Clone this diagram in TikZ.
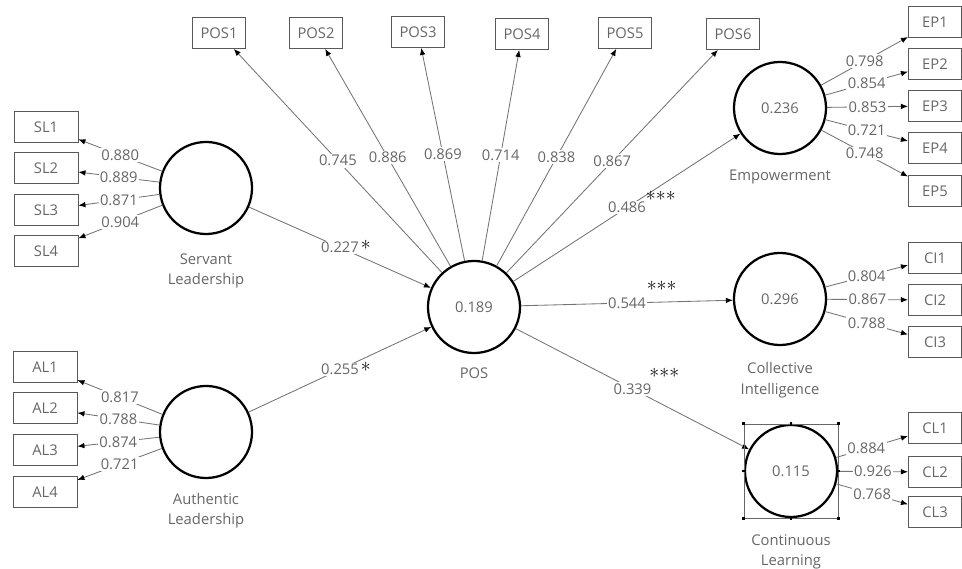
\documentclass[tikz,border=0pt]{standalone}
\usepackage{fontspec}
\usetikzlibrary{positioning,arrows.meta}
\newfontfamily\plsfont{Open Sans}

\tikzset{
  lv/.style={circle, draw=black, line width=1.6pt, minimum size=2.3cm, inner sep=0pt, font=\plsfont\fontsize{10.5}{12}\selectfont, text=black!60},
  ind/.style={draw=black!65, line width=0.6pt, minimum height=0.775cm, inner sep=2pt, font=\plsfont\fontsize{10.5}{12}\selectfont, text=black!60},
  indl/.style={ind, minimum width=1.6cm},
  indt/.style={ind, minimum width=1.33cm},
  indr/.style={ind, minimum width=1.33cm},
  lvname/.style={align=center, font=\plsfont\fontsize{10.5}{14.5}\selectfont, text=black!60, inner sep=1pt},
  link/.style={draw=black!55, line width=0.6pt, -{Latex[length=5pt,width=4pt,color=black]}},
  lbl/.style={fill=white, inner sep=1pt, font=\plsfont\fontsize{10.5}{12}\selectfont, text=black!60, pos=0.5},
  sig/.style={font=\Large, inner sep=0pt, anchor=west}
}

\begin{document}
\begin{tikzpicture}[x=0.025cm, y=-0.025cm]
\useasboundingbox (0,0) rectangle (962,569);

\node[lv] (SL) at (206,188) {};
\node[lv] (AL) at (206,432) {};
\node[lv] (POS) at (474,307) {0.189};
\node[lv] (EMP) at (780,108) {0.236};
\node[lv] (CI) at (780,299) {0.296};
\node[lv] (CL) at (791,471) {0.115};

\node[lvname, below=0.42cm of SL] (SLn) {Servant\\Leadership};
\node[lvname, below=0.3cm of AL] (ALn) {Authentic\\Leadership};
\node[lvname, below=0.3cm of POS] (POSn) {POS};
\node[lvname, below=0.33cm of EMP] (EMPn) {Empowerment};
\node[lvname, below=0.37cm of CI] (CIn) {Collective\\Intelligence};
\node[lvname, below=0.37cm of CL] (CLn) {Continuous\\Learning};

\node[indl] (SL1) at (46,127) {SL1};
\node[indl] (SL2) at (46,168) {SL2};
\node[indl] (SL3) at (46,210) {SL3};
\node[indl] (SL4) at (46,251) {SL4};

\node[indl] (AL1) at (45,367) {AL1};
\node[indl] (AL2) at (45,408) {AL2};
\node[indl] (AL3) at (45,450) {AL3};
\node[indl] (AL4) at (45,492) {AL4};

\node[indt] (POS1) at (219,33) {POS1};
\node[indt] (POS2) at (316,33) {POS2};
\node[indt] (POS3) at (418,32) {POS3};
\node[indt] (POS4) at (522,34) {POS4};
\node[indt] (POS5) at (625,33) {POS5};
\node[indt] (POS6) at (733,34) {POS6};

\node[indr] (EP1) at (935,22) {EP1};
\node[indr] (EP2) at (935,64) {EP2};
\node[indr] (EP3) at (935,106) {EP3};
\node[indr] (EP4) at (935,148) {EP4};
\node[indr] (EP5) at (935,191) {EP5};

\node[indr] (CI1) at (935,258) {CI1};
\node[indr] (CI2) at (935,300) {CI2};
\node[indr] (CI3) at (935,342) {CI3};

\node[indr] (CL1) at (935,428) {CL1};
\node[indr] (CL2) at (935,472) {CL2};
\node[indr] (CL3) at (935,512) {CL3};

\draw[link] (SL) -- (SL1) node[lbl] {0.880};
\draw[link] (SL) -- (SL2) node[lbl] {0.889};
\draw[link] (SL) -- (SL3) node[lbl] {0.871};
\draw[link] (SL) -- (SL4) node[lbl] {0.904};

\draw[link] (AL) -- (AL1) node[lbl] {0.817};
\draw[link] (AL) -- (AL2) node[lbl] {0.788};
\draw[link] (AL) -- (AL3) node[lbl] {0.874};
\draw[link] (AL) -- (AL4) node[lbl] {0.721};

\draw[link] (POS) -- (POS1) node[lbl] {0.745};
\draw[link] (POS) -- (POS2) node[lbl] {0.886};
\draw[link] (POS) -- (POS3) node[lbl] {0.869};
\draw[link] (POS) -- (POS4) node[lbl] {0.714};
\draw[link] (POS) -- (POS5) node[lbl] {0.838};
\draw[link] (POS) -- (POS6) node[lbl] {0.867};

\draw[link] (EMP) -- (EP1) node[lbl] {0.798};
\draw[link] (EMP) -- (EP2) node[lbl] {0.854};
\draw[link] (EMP) -- (EP3) node[lbl] {0.853};
\draw[link] (EMP) -- (EP4) node[lbl] {0.721};
\draw[link] (EMP) -- (EP5) node[lbl] {0.748};

\draw[link] (CI) -- (CI1) node[lbl] {0.804};
\draw[link] (CI) -- (CI2) node[lbl] {0.867};
\draw[link] (CI) -- (CI3) node[lbl] {0.788};

\draw[link] (CL) -- (CL1) node[lbl, pos=0.42] {0.884};
\draw[link] (CL) -- (CL2) node[lbl] {0.926};
\draw[link] (CL) -- (CL3) node[lbl] {0.768};

\draw[link] (SL) -- (POS) node[lbl] (b1) {0.227};
\draw[link] (AL) -- (POS) node[lbl] (b2) {0.255};
\draw[link] (POS) -- (EMP) node[lbl] (b3) {0.486};
\draw[link] (POS) -- (CI) node[lbl] (b4) {0.544};
\draw[link] (POS) -- (CL) node[lbl] (b5) {0.339};

\node[sig] (s1) at (b1.east) {*};
\node[sig] (s2) at (b2.east) {*};
\node[sig, xshift=-0.05cm, yshift=0.22cm] (s3) at (b3.east) {***};
\node[sig, xshift=-0.03cm, yshift=0.36cm] (s4) at (b4.east) {***};
\node[sig, xshift=-0.1cm, yshift=0.33cm] (s5) at (b5.east) {***};

\draw[black!60, line width=0.4pt] (CL.west |- CL.north) rectangle (CL.east |- CL.south);
\foreach \c in {(CL.west |- CL.north), (CL.north), (CL.east |- CL.north), (CL.east), (CL.east |- CL.south), (CL.south), (CL.west |- CL.south), (CL.west)}
  \fill[black] \c +(-1pt,-1pt) rectangle +(1pt,1pt);

\end{tikzpicture}
\end{document}
